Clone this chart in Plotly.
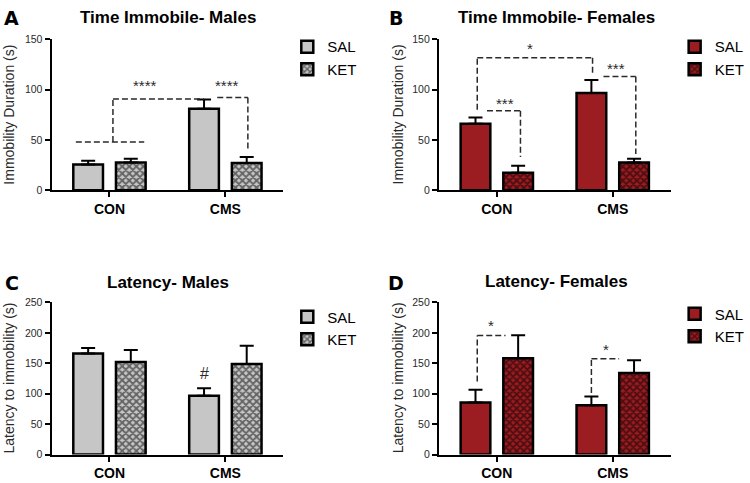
import plotly.graph_objects as go

# ---------------- data ----------------
categories = ["CON", "CMS"]
series_names = ["SAL", "KET"]

# Panel A: Time Immobile - Males (s)
a_sal = [25.5, 81.0]
a_sal_err = [3.8, 9.2]
a_ket = [27.5, 27.0]
a_ket_err = [3.7, 6.0]

# Panel B: Time Immobile - Females (s)
b_sal = [66.0, 96.5]
b_sal_err = [6.2, 13.0]
b_ket = [17.5, 27.5]
b_ket_err = [6.8, 3.8]

# Panel C: Latency - Males (s)
c_sal = [166.0, 96.5]
c_sal_err = [9.0, 12.7]
c_ket = [152.0, 149.0]
c_ket_err = [20.0, 30.0]

# Panel D: Latency - Females (s)
d_sal = [85.5, 81.0]
d_sal_err = [21.0, 14.5]
d_ket = [158.5, 134.0]
d_ket_err = [37.5, 21.0]

y_ticks_top = [0, 50, 100, 150]
y_ticks_bot = [0, 50, 100, 150, 200, 250]

# ---------------- style ----------------
FONT = "Liberation Sans, Arial, sans-serif"
GRAY = "#c6c6c6"
RED = "#9b1c21"
INK = "#2a2a2a"
W, H = 750, 483

OFF = 0.184  # bar centre offset from the category centre (axis units)

fig = go.Figure()

panels = [
    ("A", "x", "y", a_sal, a_sal_err, a_ket, a_ket_err, GRAY, "legend"),
    ("B", "x2", "y2", b_sal, b_sal_err, b_ket, b_ket_err, RED, "legend2"),
    ("C", "x3", "y3", c_sal, c_sal_err, c_ket, c_ket_err, GRAY, "legend3"),
    ("D", "x4", "y4", d_sal, d_sal_err, d_ket, d_ket_err, RED, "legend4"),
]

for key, xa, ya, sal, sal_e, ket, ket_e, col, leg in panels:
    fig.add_trace(go.Bar(
        x=categories, y=sal, name=series_names[0], xaxis=xa, yaxis=ya,
        legend=leg, offsetgroup="sal",
        marker=dict(color=col, line=dict(color="black", width=2.5)),
        error_y=dict(type="data", array=sal_e, arrayminus=[0] * len(sal_e),
                     symmetric=False, color="black", thickness=2, width=7),
    ))
    fig.add_trace(go.Bar(
        x=categories, y=ket, name=series_names[1], xaxis=xa, yaxis=ya,
        legend=leg, offsetgroup="ket",
        marker=dict(color=col, line=dict(color="black", width=2.5),
                    pattern=dict(shape="x", fgcolor="black", bgcolor=col,
                                 size=5, solidity=0.6)),
        error_y=dict(type="data", array=ket_e, arrayminus=[0] * len(ket_e),
                     symmetric=False, color="black", thickness=2, width=7),
    ))

# ---------------- axes ----------------
xl = [52 / W, 286 / W]
xr = [443 / W, 677 / W]
yt = [1 - 189 / H, 1 - 34 / H]
yb = [1 - 460 / H, 1 - 304 / H]

def xaxis(dom, anchor):
    return dict(domain=dom, anchor=anchor, type="category", range=[-0.5, 1.5],
                showline=True, linecolor="black", linewidth=2,
                ticks="outside", ticklen=5, tickwidth=2, tickcolor="black",
                tickfont=dict(family=FONT, size=14, color="black", weight="bold"),
                showgrid=False, zeroline=False, fixedrange=True)

def yaxis(dom, anchor, rng, tv):
    return dict(domain=dom, anchor=anchor, range=rng, tickvals=tv,
                showline=True, linecolor="black", linewidth=2,
                ticks="outside", ticklen=5, tickwidth=2, tickcolor="black",
                tickfont=dict(family=FONT, size=10.5, color=INK),
                showgrid=False, zeroline=False, fixedrange=True)

fig.update_layout(
    xaxis=xaxis(xl, "y"), yaxis=yaxis(yt, "x", [0, 150], y_ticks_top),
    xaxis2=xaxis(xr, "y2"), yaxis2=yaxis(yt, "x2", [0, 150], y_ticks_top),
    xaxis3=xaxis(xl, "y3"), yaxis3=yaxis(yb, "x3", [0, 250], y_ticks_bot),
    xaxis4=xaxis(xr, "y4"), yaxis4=yaxis(yb, "x4", [0, 250], y_ticks_bot),
    barmode="group", bargap=0.264, bargroupgap=0.304,
    width=W, height=H, margin=dict(l=0, r=0, t=0, b=0),
    paper_bgcolor="white", plot_bgcolor="white",
    font=dict(family=FONT, color="black"),
)

def legend(xpx, ypx):
    return dict(x=xpx / W, y=1 - ypx / H, xanchor="left", yanchor="top",
                bgcolor="rgba(0,0,0,0)", font=dict(family=FONT, size=15, color="black"),
                traceorder="normal", itemclick=False, itemdoubleclick=False)

fig.update_layout(
    legend=legend(290, 25), legend2=legend(681, 25),
    legend3=legend(290, 302), legend4=legend(681, 299),
    showlegend=True,
)

# ---------------- text ----------------
ann = []

def paper_text(text, xpx, ypx, size, bold=False, angle=0, color="black", family=FONT):
    ann.append(dict(text=f"<b>{text}</b>" if bold else text, x=xpx / W, y=1 - ypx / H,
                    xref="paper", yref="paper", showarrow=False, textangle=angle,
                    xanchor="center", yanchor="middle",
                    font=dict(family=family, size=size, color=color)))

titles = ["Time Immobile- Males", "Time Immobile- Females", "Latency- Males", "Latency- Females"]
letters = ["A", "B", "C", "D"]
ytitles = ["Immobility Duration (s)", "Immobility Duration (s)",
           "Latency to immobility (s)", "Latency to immobility (s)"]
title_pos = [(170, 11.5), (562, 11.5), (170, 284), (562, 283)]
letter_pos = [(12, 12.5), (399.5, 12.5), (12, 284.5), (399.5, 284.5)]
ytitle_pos = [(9, 111.5), (401.5, 111.5), (9, 381), (401.5, 381)]
for t, (x, y) in zip(titles, title_pos):
    paper_text(t, x, y, 17, bold=True)
for t, (x, y) in zip(letters, letter_pos):
    paper_text(t, x, y, 19, bold=True, family="DejaVu Sans, Liberation Sans, sans-serif")
for t, (x, y) in zip(ytitles, ytitle_pos):
    paper_text(t, x, y, 14, angle=-90, color=INK)

sig_marks = [
    ("", 0.31, 104, "****"), ("", 1.01, 104, "****"),
    ("2", 0.29, 141, "*"), ("2", 0.07, 86.5, "***"), ("2", 1.03, 120.5, "***"),
    ("3", 1 - OFF, 133, "#"),
    ("4", -0.05, 212, "*"), ("4", 0.94, 173, "*"),
]
for ax, x, y, t in sig_marks:
    ann.append(dict(text=t, x=x, y=y, xref="x" + ax, yref="y" + ax, showarrow=False,
                    xanchor="center", yanchor="middle",
                    font=dict(family=FONT, size=15 if t != "#" else 16, color=INK)))

fig.update_layout(annotations=ann)

brackets = [
    ("", [(-0.29, 48), (0.30, 48)]),
    ("", [(0.03, 48), (0.03, 90.5), (1 - OFF, 90.5)]),
    ("", [(0.93, 92), (1 + OFF + 0.01, 92), (1 + OFF + 0.01, 41)]),
    ("2", [(-OFF + 0.015, 80), (-OFF + 0.015, 131.5), (1 - OFF + 0.01, 131.5), (1 - OFF + 0.01, 115.5)]),
    ("2", [(-0.085, 79), (OFF + 0.02, 79), (OFF + 0.02, 33)]),
    ("2", [(0.92, 113), (1 + OFF + 0.015, 113), (1 + OFF + 0.015, 36)]),
    ("4", [(-OFF + 0.015, 120), (-OFF + 0.015, 195.5), (0.075, 195.5)]),
    ("4", [(1 - OFF, 101), (1 - OFF, 157.5), (1.055, 157.5)]),
]
for ax, pts in brackets:
    for (x0, y0), (x1, y1) in zip(pts[:-1], pts[1:]):
        fig.add_shape(type="line", xref="x" + ax, yref="y" + ax,
                      x0=x0, y0=y0, x1=x1, y1=y1,
                      line=dict(color=INK, width=1.5, dash="6px,3px"))

fig.write_html("out.html", config={"displayModeBar": False},
               post_script="document.body.style.margin='0';")
